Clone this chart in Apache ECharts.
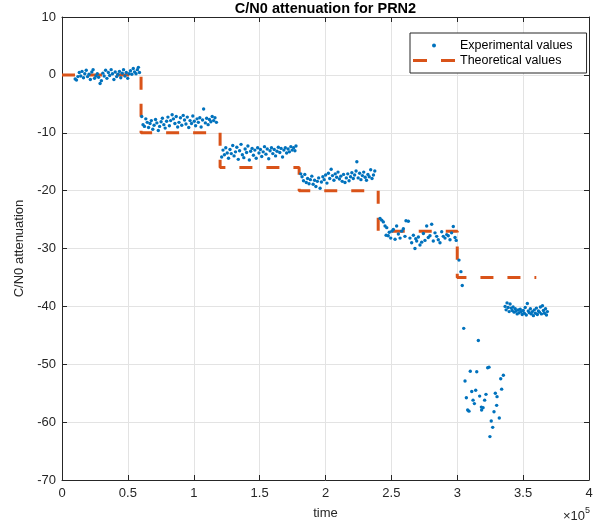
<!DOCTYPE html>
<html>
<head>
<meta charset="utf-8">
<script src="https://cdn.jsdelivr.net/npm/echarts@6/dist/echarts.min.js"></script>
<style>
  html, body { margin: 0; padding: 0; background: #ffffff; }
  #chart { width: 610px; height: 526px; }
</style>
</head>
<body>
<div id="chart"></div>
<script>
// time values are in units of 1e5 (see the ×10^5 label under the x axis)
const xTicks = [0, 0.5, 1, 1.5, 2, 2.5, 3, 3.5, 4];
const yTicks = [-70, -60, -50, -40, -30, -20, -10, 0, 10];

// theoretical attenuation: one level per interval between consecutive edges
const stepEdges = [0, 0.6, 1.2, 1.8, 2.4, 3.0, 3.6];
const stepLevels = [0, -10, -16, -20, -27, -35];

// measured C/N0 attenuation, [time, value], grouped by attenuation step
const exp0 = [[0.100,-0.7],[0.110,-0.9],[0.121,-0.3],[0.131,0.4],[0.142,-0.2],[0.152,0.6],[0.163,-0.5],[0.173,0.2],[0.184,0.8],[0.194,-0.3],[0.205,0.1],[0.215,-0.8],[0.226,0.5],[0.236,0.9],[0.247,-0.6],[0.257,-0.2],[0.268,0.2],[0.278,-0.4],[0.289,-1.5],[0.299,-1.0],[0.310,0.3],[0.320,-0.2],[0.331,0.8],[0.341,-0.6],[0.352,0.4],[0.362,-0.1],[0.373,0.9],[0.383,0.2],[0.394,-0.8],[0.404,0.5],[0.415,-0.3],[0.425,0.1],[0.436,0.6],[0.446,-0.5],[0.457,0.3],[0.467,0.9],[0.478,-0.2],[0.488,0.4],[0.499,-0.6],[0.509,0.2],[0.520,0.7],[0.530,0.1],[0.541,1.1],[0.551,0.5],[0.562,0.2],[0.572,0.9],[0.580,1.3],[0.588,0.4]];
const exp1 = [[0.605,-7.2],[0.615,-8.6],[0.626,-8.9],[0.636,-7.6],[0.647,-8.2],[0.657,-9.1],[0.668,-8.4],[0.678,-7.9],[0.689,-9.4],[0.699,-8.7],[0.710,-7.7],[0.720,-8.3],[0.731,-9.6],[0.741,-8.9],[0.752,-8.1],[0.762,-7.5],[0.773,-8.6],[0.783,-9.2],[0.794,-8.0],[0.804,-7.3],[0.815,-8.8],[0.825,-7.9],[0.836,-6.9],[0.846,-7.6],[0.857,-8.4],[0.867,-7.2],[0.878,-9.0],[0.888,-8.2],[0.899,-7.4],[0.909,-8.7],[0.920,-7.0],[0.930,-7.8],[0.941,-8.5],[0.951,-7.3],[0.962,-9.1],[0.972,-7.9],[0.983,-8.4],[0.993,-7.1],[1.004,-8.0],[1.014,-8.8],[1.025,-7.6],[1.035,-8.2],[1.046,-7.4],[1.056,-9.0],[1.067,-7.8],[1.075,-5.9],[1.088,-8.3],[1.098,-7.5],[1.109,-8.6],[1.119,-7.7],[1.130,-8.1],[1.140,-7.2],[1.151,-7.9],[1.161,-7.4],[1.172,-8.2]];
const exp2 = [[1.212,-14.2],[1.222,-13.0],[1.233,-13.8],[1.243,-12.6],[1.254,-13.5],[1.264,-14.4],[1.275,-12.9],[1.285,-13.6],[1.296,-12.2],[1.306,-14.0],[1.317,-13.3],[1.327,-12.5],[1.338,-14.6],[1.348,-13.1],[1.359,-12.0],[1.369,-13.8],[1.380,-14.3],[1.390,-12.8],[1.401,-13.4],[1.411,-12.3],[1.422,-14.7],[1.432,-13.2],[1.443,-12.7],[1.453,-13.9],[1.464,-13.0],[1.474,-14.4],[1.485,-12.6],[1.495,-13.5],[1.506,-12.9],[1.516,-14.1],[1.527,-13.3],[1.537,-12.4],[1.548,-13.7],[1.558,-12.8],[1.569,-14.5],[1.579,-13.1],[1.590,-12.6],[1.600,-13.6],[1.611,-12.9],[1.621,-14.0],[1.632,-13.2],[1.642,-12.5],[1.653,-13.4],[1.663,-12.7],[1.674,-14.2],[1.684,-13.0],[1.695,-12.6],[1.705,-13.5],[1.716,-12.8],[1.726,-13.3],[1.737,-12.4],[1.747,-13.0],[1.758,-12.6],[1.768,-13.1],[1.776,-12.3]];
const exp3 = [[1.812,-17.1],[1.822,-17.6],[1.833,-18.3],[1.843,-17.2],[1.854,-18.6],[1.864,-17.9],[1.875,-18.8],[1.885,-18.1],[1.896,-17.5],[1.906,-18.9],[1.917,-18.2],[1.927,-19.3],[1.938,-18.4],[1.948,-17.8],[1.959,-19.6],[1.969,-18.5],[1.980,-17.6],[1.990,-18.1],[2.001,-17.3],[2.011,-18.7],[2.022,-17.0],[2.032,-17.9],[2.043,-16.3],[2.053,-17.4],[2.064,-18.2],[2.074,-17.1],[2.085,-17.7],[2.095,-16.8],[2.106,-18.0],[2.116,-17.5],[2.127,-18.4],[2.137,-17.2],[2.148,-18.6],[2.158,-17.8],[2.169,-17.1],[2.179,-18.3],[2.190,-17.6],[2.200,-16.9],[2.211,-17.9],[2.221,-17.3],[2.232,-16.6],[2.238,-15.0],[2.248,-17.8],[2.259,-17.0],[2.269,-18.1],[2.280,-17.4],[2.290,-16.8],[2.301,-17.7],[2.311,-18.2],[2.322,-17.2],[2.332,-17.6],[2.343,-16.4],[2.353,-17.9],[2.364,-17.3],[2.374,-16.6]];
const exp4 = [[2.414,-24.8],[2.427,-25.1],[2.439,-25.4],[2.452,-26.1],[2.460,-27.7],[2.465,-26.4],[2.476,-27.8],[2.484,-27.2],[2.495,-28.2],[2.503,-27.0],[2.515,-26.7],[2.528,-28.4],[2.540,-26.1],[2.553,-27.5],[2.566,-28.2],[2.578,-27.0],[2.591,-26.6],[2.603,-27.9],[2.611,-25.2],[2.629,-25.3],[2.641,-28.2],[2.654,-29.0],[2.667,-27.7],[2.679,-30.0],[2.685,-28.3],[2.692,-28.7],[2.705,-28.0],[2.717,-29.4],[2.730,-28.9],[2.743,-27.4],[2.755,-28.6],[2.768,-26.1],[2.780,-28.1],[2.793,-27.8],[2.806,-25.8],[2.818,-28.7],[2.831,-27.3],[2.844,-27.9],[2.856,-28.5],[2.869,-29.0],[2.882,-27.1],[2.894,-27.9],[2.907,-28.2],[2.920,-27.6],[2.932,-27.8],[2.945,-28.5],[2.957,-27.3],[2.970,-26.2],[2.983,-28.1],[2.992,-28.6]];
const exp5 = [[3.013,-32.0],[3.028,-34.0],[3.038,-36.4],[3.049,-43.8],[3.059,-52.9],[3.069,-55.8],[3.079,-57.9],[3.089,-58.1],[3.099,-51.2],[3.110,-54.7],[3.120,-56.2],[3.130,-56.8],[3.140,-54.5],[3.148,-51.3],[3.160,-45.9],[3.170,-55.5],[3.183,-57.4],[3.185,-57.9],[3.196,-57.5],[3.208,-56.2],[3.218,-55.2],[3.231,-50.6],[3.241,-50.5],[3.248,-62.5],[3.258,-59.8],[3.269,-60.9],[3.279,-58.2],[3.289,-55.0],[3.299,-57.1],[3.302,-55.6],[3.319,-59.3],[3.330,-52.5],[3.337,-54.3],[3.350,-51.9]];
const exp6 = [[3.363,-40.0],[3.371,-40.6],[3.378,-39.4],[3.386,-40.2],[3.394,-40.9],[3.401,-39.6],[3.409,-40.3],[3.417,-40.7],[3.424,-40.1],[3.432,-41.0],[3.440,-40.4],[3.447,-40.8],[3.455,-41.3],[3.463,-40.6],[3.470,-41.1],[3.478,-40.5],[3.486,-40.9],[3.493,-41.4],[3.501,-40.7],[3.509,-41.2],[3.516,-40.2],[3.524,-41.5],[3.532,-39.5],[3.539,-40.8],[3.547,-41.1],[3.555,-40.4],[3.562,-41.3],[3.570,-40.9],[3.578,-41.6],[3.585,-40.6],[3.593,-41.2],[3.601,-40.3],[3.608,-41.4],[3.616,-40.8],[3.624,-41.0],[3.631,-40.1],[3.639,-41.3],[3.647,-39.9],[3.654,-40.7],[3.662,-41.2],[3.670,-40.4],[3.677,-41.5],[3.684,-40.9]];

const experimental = [].concat(exp0, exp1, exp2, exp3, exp4, exp5, exp6);

// step line: horizontal run for each level, joined by vertical drops
const theoretical = [];
stepLevels.forEach((lvl, i) => {
  theoretical.push([stepEdges[i], lvl], [stepEdges[i + 1], lvl]);
});

const FONT = 'Liberation Sans, Arial, Helvetica, sans-serif';
const INK = '#262626';
const BLUE = '#0072BD';
const ORANGE = '#D95319';

// legend key for the dashed line: two short bars
const DASH_ICON = 'path://M0,0H14V3H0Z M28,0H42V3H28Z';

const chart = echarts.init(document.getElementById('chart'), null, { renderer: 'canvas' });

const boxAxis = {
  type: 'value',
  axisLine: { show: true, onZero: false, lineStyle: { color: INK, width: 1 } },
  axisTick: { show: true, inside: true, length: 5, lineStyle: { color: INK } },
  axisLabel: { show: false },
  splitLine: { show: false }
};

chart.setOption({
  animation: false,
  backgroundColor: '#ffffff',
  textStyle: { fontFamily: FONT },
  title: {
    text: 'C/N0 attenuation for PRN2',
    left: 325.5,
    textAlign: 'center',
    top: 1,
    padding: 0,
    textStyle: { fontFamily: FONT, fontSize: 14.5, fontWeight: 'bold', color: '#000000' }
  },
  grid: { left: 62, right: 21, top: 17, bottom: 46, containLabel: false },
  legend: {
    orient: 'vertical',
    left: 410,
    top: 33,
    padding: [5, 14, 5, 3],
    itemGap: 0,
    itemWidth: 42,
    itemHeight: 4,
    backgroundColor: '#ffffff',
    borderColor: INK,
    borderWidth: 1,
    borderRadius: 0,
    textStyle: { fontFamily: FONT, fontSize: 12.5, color: '#000000', lineHeight: 15 },
    data: [
      { name: 'Experimental values', icon: 'circle' },
      { name: 'Theoretical values', icon: DASH_ICON, itemStyle: { color: ORANGE } }
    ]
  },
  xAxis: [
    {
      type: 'value',
      min: xTicks[0],
      max: xTicks[xTicks.length - 1],
      interval: 0.5,
      name: 'time',
      nameLocation: 'middle',
      nameGap: 27,
      nameTextStyle: { fontFamily: FONT, fontSize: 13, color: INK },
      axisLine: { show: true, onZero: false, lineStyle: { color: INK, width: 1 } },
      axisTick: { show: true, inside: true, length: 5, lineStyle: { color: INK } },
      axisLabel: { color: INK, fontSize: 13, fontFamily: FONT, margin: 7 },
      splitLine: { show: true, lineStyle: { color: '#e3e3e3', width: 1 } }
    },
    Object.assign({}, boxAxis, {
      position: 'top',
      min: xTicks[0],
      max: xTicks[xTicks.length - 1],
      interval: 0.5
    })
  ],
  yAxis: [
    {
      type: 'value',
      min: yTicks[0],
      max: yTicks[yTicks.length - 1],
      interval: 10,
      name: 'C/N0 attenuation',
      nameLocation: 'middle',
      nameRotate: 90,
      nameGap: 34,
      nameTextStyle: { fontFamily: FONT, fontSize: 13, color: INK },
      axisLine: { show: true, onZero: false, lineStyle: { color: INK, width: 1 } },
      axisTick: { show: true, inside: true, length: 5, lineStyle: { color: INK } },
      axisLabel: { color: INK, fontSize: 13, fontFamily: FONT, margin: 6 },
      splitLine: { show: true, lineStyle: { color: '#e3e3e3', width: 1 } }
    },
    Object.assign({}, boxAxis, {
      position: 'right',
      min: yTicks[0],
      max: yTicks[yTicks.length - 1],
      interval: 10
    })
  ],
  graphic: [
    {
      type: 'text',
      left: 563,
      top: 506,
      style: {
        text: '{a|×10}{b|5}',
        fill: INK,
        rich: {
          a: { fontFamily: FONT, fontSize: 13, fill: INK, verticalAlign: 'bottom' },
          b: { fontFamily: FONT, fontSize: 9, fill: INK, verticalAlign: 'top', padding: [0, 0, 8, 0] }
        }
      }
    }
  ],
  series: [
    {
      name: 'Experimental values',
      type: 'scatter',
      data: experimental,
      symbol: 'circle',
      symbolSize: 3.4,
      itemStyle: { color: BLUE, opacity: 1 },
      z: 3
    },
    {
      name: 'Theoretical values',
      type: 'line',
      data: theoretical,
      showSymbol: false,
      symbol: 'none',
      lineStyle: { color: ORANGE, width: 3, type: [13, 14], cap: 'butt' },
      itemStyle: { color: ORANGE },
      z: 2
    }
  ]
});
</script>
</body>
</html>
